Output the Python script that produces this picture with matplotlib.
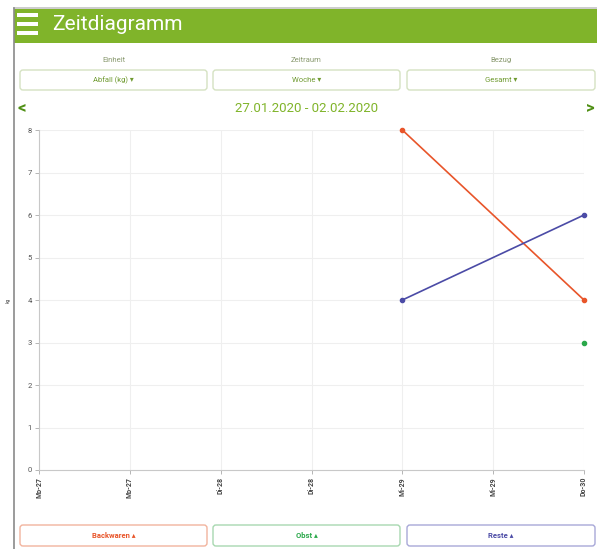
import matplotlib
matplotlib.use("Agg")
import matplotlib.pyplot as plt
from matplotlib.patches import FancyBboxPatch, Rectangle

plt.rcParams['font.family'] = ['Roboto', 'DejaVu Sans']

# chart data
day_labels = ["Mo-27", "Mo-27", "Di-28", "Di-28", "Mi-29", "Mi-29", "Do-30"]
backwaren_x = [4, 6]
backwaren_y = [8, 4]
reste_x = [4, 6]
reste_y = [4, 6]
obst_x = [6]
obst_y = [3]
y_ticks = [0, 1, 2, 3, 4, 5, 6, 7, 8]

# ui texts
header_title = "Zeitdiagramm"
selector_titles = ["Einheit", "Zeitraum", "Bezug"]
selector_values = ["Abfall (kg) ▾", "Woche ▾", "Gesamt ▾"]
date_range = "27.01.2020 - 02.02.2020"
legend_names = ["Backwaren ▴", "Obst ▴", "Reste ▴"]

GREEN = "#80b42a"
C_BACK = "#e8552a"
C_OBST = "#2aa84a"
C_RESTE = "#4b4ba6"

W, H = 597, 549
fig = plt.figure(figsize=(W / 100, H / 100), dpi=100)
fig.patch.set_facecolor("white")

# background axes in pixel coordinates for the app ui
ui = fig.add_axes([0, 0, 1, 1])
ui.set_xlim(0, W)
ui.set_ylim(H, 0)
ui.axis("off")

# frame lines and header
ui.plot([14, W], [7.5, 7.5], color="#c4c4c4", lw=1.2)
ui.plot([14, 14], [8, H], color="#8a8a8a", lw=1.2)
ui.add_patch(Rectangle((14, 9), W - 14, 34, facecolor=GREEN, edgecolor="none"))
for yy in (14.5, 23.5, 32.5):
    ui.add_patch(Rectangle((17, yy - 2), 21, 4, facecolor="white", edgecolor="none"))
ui.text(52, 25, header_title, color="white", fontsize=15, va="center", ha="left")

# selectors
cols = [(20, 207), (213, 400), (407, 595)]
for (x0, x1), title, val in zip(cols, selector_titles, selector_values):
    cx = (x0 + x1) / 2
    ui.text(cx, 60, title, color="#8a9a70", fontsize=5.5, ha="center", va="center")
    ui.add_patch(FancyBboxPatch((x0, 70), x1 - x0, 20, boxstyle="round,pad=0,rounding_size=3",
                                facecolor="white", edgecolor="#d5e2c2", lw=1))
    ui.text(cx, 80, val, color="#6f9a30", fontsize=5.5, ha="center", va="center")

# date navigation
ui.text(22, 108, "<", color="#4f8f14", fontsize=12, fontweight="bold", ha="center", va="center")
ui.text(590, 108, ">", color="#4f8f14", fontsize=12, fontweight="bold", ha="center", va="center")
ui.text(307, 108, date_range, color=GREEN, fontsize=9.5, ha="center", va="center")

# legend buttons
leg_colors = [C_BACK, C_OBST, C_RESTE]
leg_edges = ["#f2b49e", "#a8d8b0", "#a8a8d8"]
for (x0, x1), name, c, ec in zip(cols, legend_names, leg_colors, leg_edges):
    ui.add_patch(FancyBboxPatch((x0, 525), x1 - x0, 21, boxstyle="round,pad=0,rounding_size=3",
                                facecolor="white", edgecolor=ec, lw=1))
    ui.text((x0 + x1) / 2, 535.5, name, color=c, fontsize=5.5, fontweight="bold",
            ha="center", va="center")

# chart axes
ax = fig.add_axes([39 / W, 1 - 470 / H, 545 / W, 340 / H])
ax.patch.set_alpha(0)
ax.plot(backwaren_x, backwaren_y, color=C_BACK, lw=1.2, marker="o", markersize=3, clip_on=False)
ax.plot(reste_x, reste_y, color=C_RESTE, lw=1.2, marker="o", markersize=3, clip_on=False)
ax.plot(obst_x, obst_y, color=C_OBST, marker="o", markersize=3, linestyle="none", clip_on=False)

ax.set_xlim(0, len(day_labels) - 1)
ax.set_ylim(0, 8)
ax.set_xticks(range(len(day_labels)))
ax.set_xticklabels(day_labels, rotation=90, fontsize=5, color="#444444", fontweight="bold")
ax.set_yticks(y_ticks)
ax.set_yticklabels([str(v) for v in y_ticks], fontsize=5.5, color="#555555")
ax.grid(True, color="#efefef", lw=0.8)
ax.tick_params(length=3, width=0.6, color="#aaaaaa", pad=2)
for s in ("top", "right"):
    ax.spines[s].set_visible(False)
for s in ("left", "bottom"):
    ax.spines[s].set_color("#c8c8c8")
    ax.spines[s].set_linewidth(0.8)
ax.set_ylabel("kg", fontsize=3.5, color="#555555", labelpad=12)
ax.set_axisbelow(True)

fig.savefig("out.png", dpi=100)
